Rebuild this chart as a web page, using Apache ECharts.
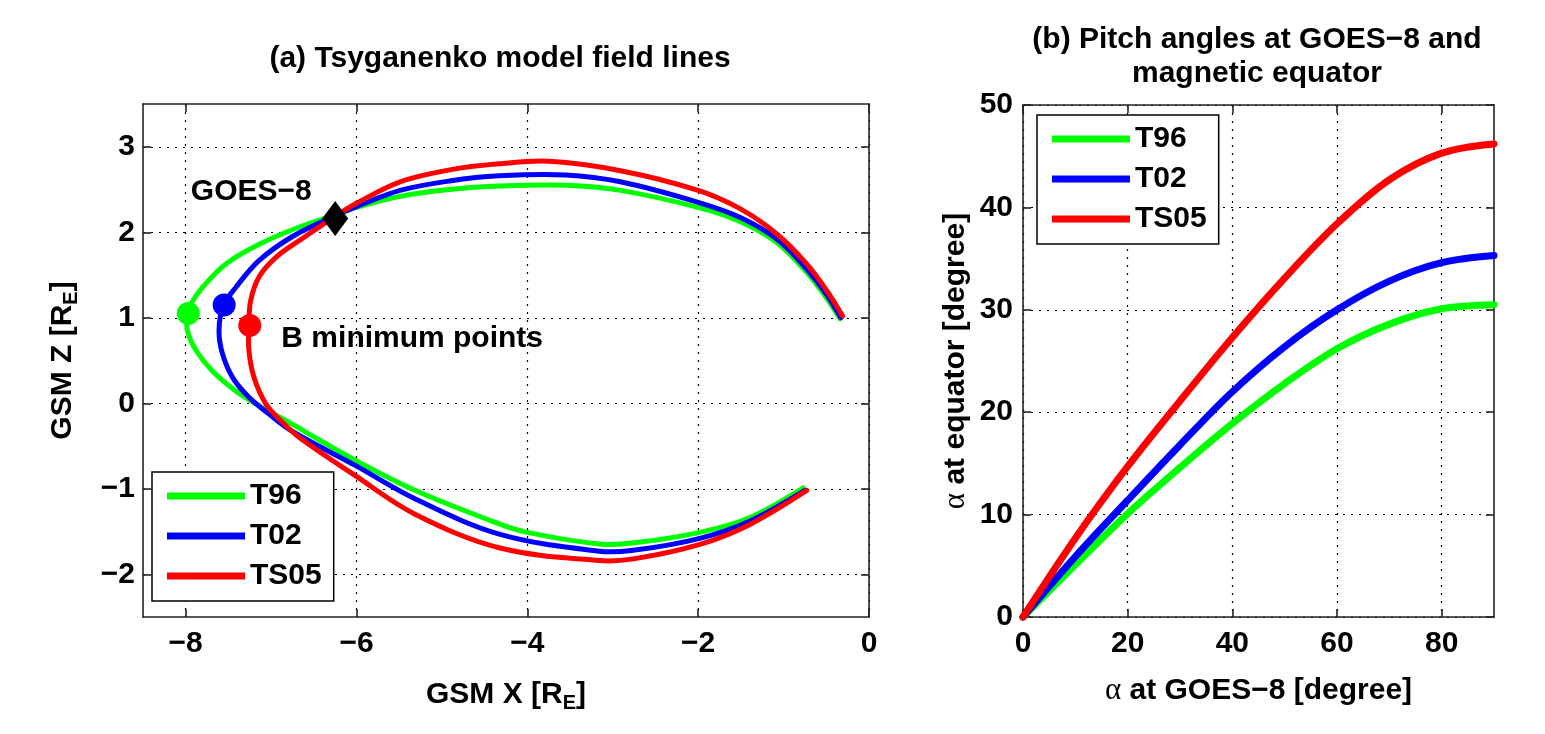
<!DOCTYPE html>
<html><head><meta charset="utf-8">
<script src="https://cdn.jsdelivr.net/npm/echarts@6/dist/echarts.min.js"></script>
<style>html,body{margin:0;padding:0;background:#fff}#c{width:1545px;height:734px}</style>
</head><body><div id="c"></div><script>
// ---------- Panel (a): field lines (GSM X, GSM Z) ----------
const fieldX_T96 = [-0.34,-0.49,-0.73,-1.08,-1.5,-2.0,-2.91,-3.55,-4.33,-4.91,-5.49,-6.0,-6.26,-6.7,-7.14,-7.53,-7.8,-7.94,-7.98,-7.98,-7.88,-7.69,-7.41,-7.14,-6.83,-6.59,-6.01,-5.31,-4.33,-4.0,-3.16,-2.77,-1.98,-1.4,-0.77];
const fieldZ_T96 = [0.99,1.22,1.53,1.88,2.12,2.29,2.49,2.55,2.54,2.5,2.42,2.29,2.2,2.05,1.86,1.63,1.36,1.16,1.05,0.85,0.62,0.38,0.14,-0.03,-0.2,-0.34,-0.67,-1.02,-1.41,-1.51,-1.645,-1.635,-1.51,-1.34,-0.99];
const fieldX_T02 = [-0.33,-0.49,-0.73,-1.08,-1.5,-2.0,-2.91,-3.55,-4.33,-4.91,-5.49,-6.0,-6.26,-6.75,-7.14,-7.41,-7.56,-7.61,-7.57,-7.45,-7.26,-7.02,-6.75,-6.01,-5.31,-4.33,-3.16,-2.76,-1.98,-1.4,-0.75];
const fieldZ_T02 = [1.0,1.26,1.57,1.92,2.17,2.35,2.59,2.67,2.66,2.6,2.49,2.3,2.19,1.95,1.67,1.36,1.14,0.85,0.58,0.3,0.07,-0.13,-0.33,-0.73,-1.12,-1.53,-1.73,-1.72,-1.58,-1.38,-1.02];
const fieldX_TS05 = [-0.31,-0.49,-0.73,-1.08,-1.5,-2.0,-2.91,-3.74,-4.33,-4.91,-5.49,-6.0,-6.26,-6.63,-6.94,-7.14,-7.24,-7.26,-7.26,-7.2,-7.06,-6.87,-6.67,-6.01,-5.31,-4.33,-3.16,-2.76,-1.98,-1.4,-0.73];
const fieldZ_TS05 = [1.02,1.31,1.63,1.98,2.27,2.49,2.72,2.83,2.8,2.73,2.59,2.34,2.18,1.93,1.71,1.48,1.2,0.91,0.62,0.3,-0.01,-0.22,-0.4,-0.85,-1.3,-1.69,-1.84,-1.82,-1.65,-1.42,-1.02];
const bminX = [-7.97, -7.55, -7.25];
const bminZ = [1.05, 1.15, 0.91];
const goesX = -6.25, goesZ = 2.16;
const xTicksA = [-8, -6, -4, -2, 0];
const zTicksA = [-2, -1, 0, 1, 2, 3];

// ---------- Panel (b): pitch angles ----------
const alphaGOES = [0, 10, 20, 30, 40, 50, 60, 70, 80, 90];
const alphaEq_T96 = [0, 5.1, 10.1, 14.6, 18.9, 22.8, 26.2, 28.6, 30.1, 30.5];
const alphaEq_T02 = [0, 5.9, 11.4, 16.8, 22.0, 26.4, 30.0, 32.8, 34.6, 35.3];
const alphaEq_TS05 = [0, 7.7, 14.7, 21.1, 27.3, 33.1, 38.4, 42.7, 45.3, 46.2];
const xTicksB = [0, 20, 40, 60, 80];
const yTicksB = [0, 10, 20, 30, 40, 50];

const names = ['T96', 'T02', 'TS05'];
const colors = ['#00ff00', '#0000ff', '#ff0000'];

const zip = (a, b) => a.map((v, i) => [v, b[i]]);
const FONT = 'Liberation Sans';
const FS = 30;

const gridLine = {show: true, lineStyle: {color: '#000', width: 1.2, type: [2, 6]}};
function mainAxis(gi, min, max, ticks, pos, margin, extra) {
  return Object.assign({
    type: 'value', gridIndex: gi, min: min, max: max, position: pos,
    axisLine: {show: true, onZero: false, lineStyle: {color: '#222', width: 1.6}},
    axisTick: {show: true, inside: true, length: 8, customValues: ticks, lineStyle: {color: '#222', width: 1.6}},
    axisLabel: {show: true, customValues: ticks, color: '#000', fontSize: FS, fontWeight: 'bold', fontFamily: FONT, margin: margin,
      formatter: v => (v < 0 ? '\u2212' + Math.abs(v) : String(v))},
    splitLine: gridLine
  }, extra || {});
}
function mirrorAxis(gi, min, max, ticks, pos) {
  return {
    type: 'value', gridIndex: gi, min: min, max: max, position: pos,
    axisLine: {show: true, onZero: false, lineStyle: {color: '#222', width: 1.6}},
    axisTick: {show: true, inside: true, length: 8, customValues: ticks, lineStyle: {color: '#222', width: 1.6}},
    axisLabel: {show: false}, splitLine: {show: false}
  };
}
const nameStyle = {fontSize: FS, fontWeight: 'bold', fontFamily: FONT, color: '#000',
  rich: {
    sub: {fontSize: 20, fontWeight: 'bold', fontFamily: FONT, color: '#000', padding: [16, 0, 0, 0]},
    a: {fontSize: 31, fontWeight: 'normal', fontFamily: 'Liberation Serif', color: '#000'}
  }};

// smooth curve through the data points, positioned by the axes (api.coord)
function curveSeries(name, color, width, xs, ys, xi, yi, z) {
  const pts = zip(xs, ys);
  return {
    name: name, type: 'custom', xAxisIndex: xi, yAxisIndex: yi, data: pts, z: z, silent: true, clip: false,
    encode: {x: 0, y: 1}, itemStyle: {color: color},
    renderItem: function (params, api) {
      if (params.dataIndex !== 0) return null;
      const points = pts.map(p => api.coord(p));
      return {type: 'polyline', shape: {points: points, smooth: 0.35},
        style: {stroke: color, lineWidth: width, fill: null, lineJoin: 'round', lineCap: 'round'}};
    }
  };
}

const series = [];
[[fieldX_T96, fieldZ_T96], [fieldX_T02, fieldZ_T02], [fieldX_TS05, fieldZ_TS05]].forEach((xz, i) => {
  series.push(curveSeries(names[i], colors[i], 5, xz[0], xz[1], 0, 0, 3 + i));
});
bminX.forEach((x, i) => {
  series.push({name: 'Bmin ' + names[i], type: 'scatter', xAxisIndex: 0, yAxisIndex: 0, data: [[x, bminZ[i]]],
    symbol: 'circle', symbolSize: 23, itemStyle: {color: colors[i], opacity: 1}, z: 8, silent: true});
});
series.push({name: 'GOES-8', type: 'scatter', xAxisIndex: 0, yAxisIndex: 0, data: [[goesX, goesZ]],
  symbol: 'diamond', symbolSize: [26, 35], itemStyle: {color: '#000', opacity: 1}, z: 9, silent: true});
series.push({name: 'notes', type: 'scatter', xAxisIndex: 0, yAxisIndex: 0, symbolSize: 0, z: 10, silent: true,
  itemStyle: {opacity: 1},
  data: [
    {value: [-7.94, 2.47], label: {formatter: 'GOES\u22128'}},
    {value: [-6.88, 0.75], label: {formatter: 'B minimum points'}}
  ],
  label: {show: true, position: 'inside', align: 'left', verticalAlign: 'middle', color: '#000',
    fontSize: FS, fontWeight: 'bold', fontFamily: FONT}
});
[alphaEq_T96, alphaEq_T02, alphaEq_TS05].forEach((ys, i) => {
  series.push(curveSeries(names[i], colors[i], 7, alphaGOES, ys, 2, 2, 3 + i));
});

const legendBase = {orient: 'vertical', data: names, icon: 'rect', itemWidth: 78, itemHeight: 7, itemGap: 10,
  selectedMode: false, backgroundColor: '#fff', borderColor: '#000', borderWidth: 1.5, padding: [9, 12, 10, 15],
  textStyle: {fontSize: FS, fontWeight: 'bold', fontFamily: FONT, color: '#000', lineHeight: 30}};

const option = {
  animation: false,
  backgroundColor: '#fff',
  textStyle: {fontFamily: FONT},
  title: [
    {text: '(a) Tsyganenko model field lines', left: 500, top: 44, textAlign: 'center', padding: 0,
      textStyle: {fontSize: FS, fontWeight: 'bold', fontFamily: FONT, color: '#000'}},
    {text: '(b) Pitch angles at GOES\u22128 and\nmagnetic equator', left: 1257, top: 23, textAlign: 'center', padding: 0,
      textStyle: {fontSize: FS, fontWeight: 'bold', fontFamily: FONT, color: '#000', lineHeight: 34}}
  ],
  grid: [
    {left: 143, top: 104, width: 726, height: 513},
    {left: 1023, top: 105, width: 471, height: 512}
  ],
  xAxis: [
    mainAxis(0, -8.5, 0, xTicksA, 'bottom', 12, {name: 'GSM X [R{sub|E}]', nameLocation: 'middle', nameGap: 60, nameTextStyle: nameStyle}),
    mirrorAxis(0, -8.5, 0, xTicksA, 'top'),
    mainAxis(1, 0, 90, xTicksB, 'bottom', 12, {name: '{a|\u03b1} at GOES\u22128 [degree]', nameLocation: 'middle', nameGap: 58, nameTextStyle: nameStyle}),
    mirrorAxis(1, 0, 90, xTicksB, 'top')
  ],
  yAxis: [
    mainAxis(0, -2.5, 3.5, zTicksA, 'left', 8, {name: 'GSM Z [R{sub|E}]', nameLocation: 'middle', nameGap: 62, nameTextStyle: nameStyle}),
    mirrorAxis(0, -2.5, 3.5, zTicksA, 'right'),
    mainAxis(1, 0, 50, yTicksB, 'left', 10, {name: '{a|\u03b1} at equator [degree]', nameLocation: 'middle', nameGap: 52, nameTextStyle: nameStyle}),
    mirrorAxis(1, 0, 50, yTicksB, 'right')
  ],
  legend: [
    Object.assign({}, legendBase, {left: 152, top: 472}),
    Object.assign({}, legendBase, {left: 1037, top: 115})
  ],
  series: series
};
const chart = echarts.init(document.getElementById('c'), null, {renderer: 'canvas'});
chart.setOption(option);
</script></body></html>
